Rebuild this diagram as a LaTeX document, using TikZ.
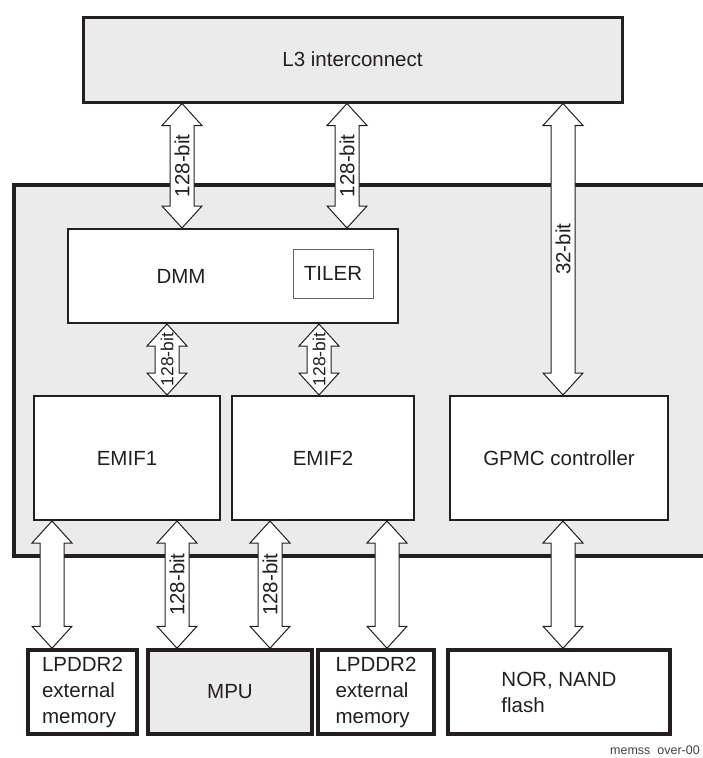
\documentclass[tikz,border=0pt]{standalone}
\usepackage{fontspec}
\setmainfont{Liberation Sans}
\usetikzlibrary{calc}
\definecolor{ink}{HTML}{231F20}
\definecolor{panel}{HTML}{EBEBEB}
\tikzset{
  txt/.style={font=\fontsize{20.5}{26}\selectfont, text=ink},
  box/.style={draw=ink, line width=2pt, fill=white, inner sep=0pt, txt},
  outbox/.style={draw=ink, line width=3.5pt, fill=white, inner sep=0pt, align=left, txt},
  barrow/.style={draw=ink, line width=1pt, fill=white, line join=miter,
    to path={let \p1=(\tikztostart), \p2=(\tikztotarget) in
      -- (\x1+20pt,\y1-22pt) -- (\x1+12pt,\y1-22pt) -- (\x1+12pt,\y2+22pt)
      -- (\x1+20pt,\y2+22pt) -- (\x2,\y2) -- (\x1-20pt,\y2+22pt)
      -- (\x1-12pt,\y2+22pt) -- (\x1-12pt,\y1-22pt) -- (\x1-20pt,\y1-22pt) -- cycle}},
  blbl/.style={rotate=90, inner sep=0pt, txt},
  sblbl/.style={rotate=90, inner sep=0pt, font=\fontsize{17.5}{20}\selectfont, text=ink}
}
\begin{document}
\begin{tikzpicture}[x=1pt, y=-1pt]
\useasboundingbox (0,0) rectangle (702,758);
% panel
\node[draw=ink, line width=3.5pt, fill=panel, minimum width=706pt, minimum height=371pt, inner sep=0pt] (memss) at (367,370.5) {};
% L3
\node[draw=ink, line width=3pt, fill=panel, minimum width=539pt, minimum height=85pt, inner sep=0pt, txt] (l3) at (352.5,59.5) {L3 interconnect};
% DMM
\node[box, minimum width=330pt, minimum height=94pt] (dmm) at (233,276) {};
\node[txt, inner sep=0pt] (dmmlbl) at (181,276) {DMM};
\node[draw=ink!70, line width=0.8pt, fill=white, minimum width=80pt, minimum height=49pt, inner sep=0pt, txt] (tiler) at (333,273.5) {TILER};
% EMIFs and GPMC
\node[box, minimum width=186pt, minimum height=124pt] (emif1) at (127,458) {EMIF1};
\node[box, minimum width=182pt, minimum height=124pt] (emif2) at (323,458) {EMIF2};
\node[box, minimum width=218pt, minimum height=124pt] (gpmc) at (559,458) {GPMC controller};
% bottom row
\node[outbox, minimum width=109pt, minimum height=84pt] (lp1) at (82.5,692) {LPDDR2\\external\\memory};
\node[outbox, fill=panel, minimum width=164pt, minimum height=84pt] (mpu) at (230,692) {MPU};
\node[outbox, minimum width=116pt, minimum height=84pt] (lp2) at (376,692) {LPDDR2\\external\\memory};
\node[outbox, minimum width=222pt, minimum height=84pt] (nor) at (559,692) {NOR, NAND\\flash};
% arrows L3 <-> DMM / GPMC
\draw[barrow] (l3.south -| 182,0) to (dmm.north -| 182,0);
\path (l3.south -| 182,0) -- node[blbl]{128-bit} (dmm.north -| 182,0);
\draw[barrow] (l3.south -| 347,0) to (dmm.north -| 347,0);
\path (l3.south -| 347,0) -- node[blbl]{128-bit} (dmm.north -| 347,0);
\draw[barrow] (l3.south -| 563,0) to (gpmc.north -| 563,0);
\path (l3.south -| 563,0) -- node[blbl]{32-bit} (gpmc.north -| 563,0);
% DMM <-> EMIF
\draw[barrow] (dmm.south -| 167,0) to (emif1.north -| 167,0);
\path (dmm.south -| 167,0) -- node[sblbl]{128-bit} (emif1.north -| 167,0);
\draw[barrow] (dmm.south -| 319,0) to (emif2.north -| 319,0);
\path (dmm.south -| 319,0) -- node[sblbl]{128-bit} (emif2.north -| 319,0);
% bottom arrows
\draw[barrow] (emif1.south -| 52,0) to (lp1.north -| 52,0);
\draw[barrow] (emif1.south -| 177,0) to (mpu.north -| 177,0);
\path (emif1.south -| 177,0) -- node[blbl]{128-bit} (mpu.north -| 177,0);
\draw[barrow] (emif2.south -| 270,0) to (mpu.north -| 270,0);
\path (emif2.south -| 270,0) -- node[blbl]{128-bit} (mpu.north -| 270,0);
\draw[barrow] (emif2.south -| 387,0) to (lp2.north -| 387,0);
\draw[barrow] (gpmc.south -| 563,0) to (nor.north -| 563,0);
% footer
\node[anchor=base west, inner sep=0pt, font=\fontsize{12.5}{14}\selectfont, text=ink!85] (foot) at (610,754) {memss\ \ over-00};
\end{tikzpicture}
\end{document}
